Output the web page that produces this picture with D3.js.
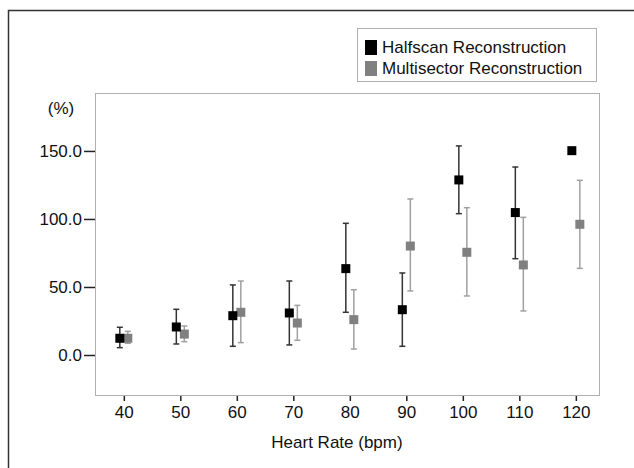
<!DOCTYPE html>
<html>
<head>
<meta charset="utf-8">
<script src="https://cdn.jsdelivr.net/npm/d3@7"></script>
<style>
  body { margin: 0; background: #fff; }
  text { font-family: "Liberation Sans", Arial, sans-serif; fill: #111; }
</style>
</head>
<body>
<div id="chart"></div>
<script>
// heart rate groups
var rates = [40, 50, 60, 70, 80, 90, 100, 110, 120];

// Halfscan: mean, low, high (null = no error bar)
var halfMean = [12.3, 20.6, 28.9, 30.9, 63.5, 33.3, 128.7, 104.7, 150.2];
var halfLow  = [5.4, 8.1, 6.4, 7.4, 31.4, 6.4, 103.9, 70.8, null];
var halfHigh = [20.4, 33.6, 51.5, 54.4, 96.8, 60.3, 153.7, 138.2, null];

// Multisector: mean, low, high
var multiMean = [12.3, 15.4, 31.4, 23.5, 26.0, 80.1, 75.5, 66.2, 96.1];
var multiLow  = [8.6, 9.8, 9.1, 10.8, 4.4, 47.1, 43.4, 32.4, 63.7];
var multiHigh = [17.4, 21.3, 54.4, 36.5, 48.0, 114.7, 108.3, 101.2, 128.4];

var yTicks = [0, 50, 100, 150];
var seriesNames = ["Halfscan Reconstruction", "Multisector Reconstruction"];

var svgWidth = 634;
var svgHeight = 468;

var svg = d3.select("#chart")
  .append("svg")
  .attr("width", svgWidth)
  .attr("height", svgHeight);

// outer frame (only top and left edges visible)
svg.append("path")
  .attr("d", "M8.5,468 V10.5 H634")
  .attr("fill", "none")
  .attr("stroke", "#333")
  .attr("stroke-width", 1.5);

// plot area
var plot = { left: 95, top: 93, right: 599, bottom: 395 };

var x = d3.scaleLinear()
  .domain([34.9, 124.1])
  .range([plot.left, plot.right]);

var y = d3.scaleLinear()
  .domain([-29.4, 192.6])
  .range([plot.bottom, plot.top]);

svg.append("rect")
  .attr("x", plot.left + 0.5)
  .attr("y", plot.top + 0.5)
  .attr("width", plot.right - plot.left)
  .attr("height", plot.bottom - plot.top)
  .attr("fill", "none")
  .attr("stroke", "#b0b0b0")
  .attr("stroke-width", 1);

// y axis
var leftAxis = d3.axisLeft(y)
  .tickValues(yTicks)
  .tickSize(11)
  .tickPadding(2)
  .tickFormat(d3.format(".1f"));

var yAxis = svg.append("g")
  .attr("transform", `translate(${plot.left}, 0)`)
  .call(leftAxis);
yAxis.select(".domain").remove();
yAxis.selectAll(".tick line").attr("stroke", "#222").attr("stroke-width", 1.5);
yAxis.selectAll(".tick text")
  .style("font-size", "17px")
  .attr("fill", "#111");

// x axis
var bottomAxis = d3.axisBottom(x)
  .tickValues(rates)
  .tickSize(5)
  .tickPadding(5);

var xAxis = svg.append("g")
  .attr("transform", `translate(0, ${plot.bottom + 1})`)
  .call(bottomAxis);
xAxis.select(".domain").remove();
xAxis.selectAll(".tick line").attr("stroke", "#222").attr("stroke-width", 1.5);
xAxis.selectAll(".tick text")
  .style("font-size", "17px")
  .attr("fill", "#111");

// axis titles
svg.append("text")
  .attr("x", 61)
  .attr("y", 114)
  .attr("text-anchor", "middle")
  .style("font-size", "17px")
  .text("(%)");

svg.append("text")
  .attr("x", 337)
  .attr("y", 448)
  .attr("text-anchor", "middle")
  .style("font-size", "17px")
  .text("Heart Rate (bpm)");

// series drawing
function drawSeries(means, lows, highs, offset, barColor, boxColor) {
  var data = rates.map(function(r, i) {
    return { rate: r, mean: means[i], low: lows[i], high: highs[i] };
  });
  var g = svg.append("g");
  var withBars = data.filter(d => d.low != null);

  g.selectAll(".whisker")
    .data(withBars)
    .enter().append("line")
    .attr("x1", d => x(d.rate) + offset)
    .attr("x2", d => x(d.rate) + offset)
    .attr("y1", d => y(d.low))
    .attr("y2", d => y(d.high))
    .attr("stroke", barColor)
    .attr("stroke-width", 1.5);

  ["low", "high"].forEach(function(k) {
    g.selectAll(".cap-" + k)
      .data(withBars)
      .enter().append("line")
      .attr("x1", d => x(d.rate) + offset - 3)
      .attr("x2", d => x(d.rate) + offset + 3)
      .attr("y1", d => y(d[k]))
      .attr("y2", d => y(d[k]))
      .attr("stroke", barColor)
      .attr("stroke-width", 1.5);
  });

  g.selectAll(".box")
    .data(data)
    .enter().append("rect")
    .attr("x", d => x(d.rate) + offset - 4.5)
    .attr("y", d => y(d.mean) - 4.5)
    .attr("width", 9)
    .attr("height", 9)
    .attr("fill", boxColor);
}

drawSeries(multiMean, multiLow, multiHigh, 4, "#a0a0a0", "#808080");
drawSeries(halfMean, halfLow, halfHigh, -4, "#333", "#000");

// legend
var legend = svg.append("g");
legend.append("rect")
  .attr("x", 357.5)
  .attr("y", 28.5)
  .attr("width", 239)
  .attr("height", 53)
  .attr("fill", "#fff")
  .attr("stroke", "#b0b0b0");

var legendColors = ["#000", "#808080"];
seriesNames.forEach(function(name, i) {
  legend.append("rect")
    .attr("x", 365)
    .attr("y", 40 + i * 21)
    .attr("width", 12)
    .attr("height", 15)
    .attr("fill", legendColors[i]);
  legend.append("text")
    .attr("x", 382)
    .attr("y", 53 + i * 21)
    .style("font-size", "17px")
    .text(name);
});
</script>
</body>
</html>
